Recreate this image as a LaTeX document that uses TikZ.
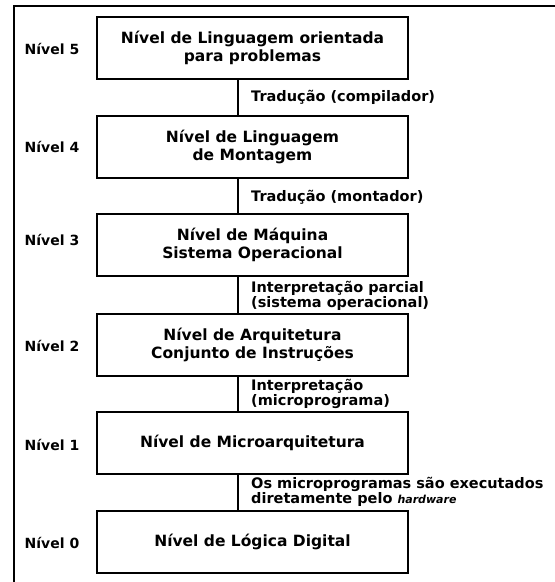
\documentclass[tikz,border=0pt]{standalone}
\usepackage{fontspec}
\setmainfont{DejaVu Sans}
\begin{document}
\begin{tikzpicture}[x=1pt,y=-1pt,
  levelbox/.style={draw, line width=1.4pt, minimum width=311pt, minimum height=62pt,
    inner sep=0pt, align=center, font=\bfseries\fontsize{15.5}{18.5}\selectfont},
  levelname/.style={anchor=center, inner sep=0pt, font=\bfseries\fontsize{14}{18}\selectfont},
  steplabel/.style={anchor=west, align=left, inner sep=0pt,
    font=\bfseries\fontsize{14.5}{15}\selectfont},
  link/.style={line width=2pt}]
\useasboundingbox (0,0) rectangle (555,582);

% outer frame (open to the right and bottom)
\draw[line width=1.3pt] (555,6) -- (14,6) -- (14,582);

% the six levels
\node[levelbox] (b5) at (252.5,48)  {Nível de Linguagem orientada\\para problemas};
\node[levelbox] (b4) at (252.5,147) {Nível de Linguagem\\de Montagem};
\node[levelbox] (b3) at (252.5,245) {Nível de Máquina\\Sistema Operacional};
\node[levelbox] (b2) at (252.5,345) {Nível de Arquitetura\\Conjunto de Instruções};
\node[levelbox] (b1) at (252.5,443) {Nível de Microarquitetura};
\node[levelbox] (b0) at (252.5,542) {Nível de Lógica Digital};

\node[levelname] (n5) at (52,49)  {Nível 5};
\node[levelname] (n4) at (52,147) {Nível 4};
\node[levelname] (n3) at (52,240) {Nível 3};
\node[levelname] (n2) at (52,346) {Nível 2};
\node[levelname] (n1) at (52,445) {Nível 1};
\node[levelname] (n0) at (52,543) {Nível 0};

% vertical links between levels
\coordinate (spine) at (238,0);
\draw[link] (b5.south -| spine) -- (b4.north -| spine);
\draw[link] (b4.south -| spine) -- (b3.north -| spine);
\draw[link] (b3.south -| spine) -- (b2.north -| spine);
\draw[link] (b2.south -| spine) -- (b1.north -| spine);
\draw[link] (b1.south -| spine) -- (b0.north -| spine);

% how each level is turned into the one below
\node[steplabel] (t54) at (251,97)  {Tradução (compilador)};
\node[steplabel] (t43) at (251,197) {Tradução (montador)};
\node[steplabel] (t32) at (251,296) {Interpretação parcial\\(sistema operacional)};
\node[steplabel] (t21) at (251,394) {Interpretação\\(microprograma)};
\node[steplabel] (t10) at (251,492) {Os microprogramas são executados\\diretamente pelo {\fontsize{11}{15}\selectfont\itshape hardware}};
\end{tikzpicture}
\end{document}
